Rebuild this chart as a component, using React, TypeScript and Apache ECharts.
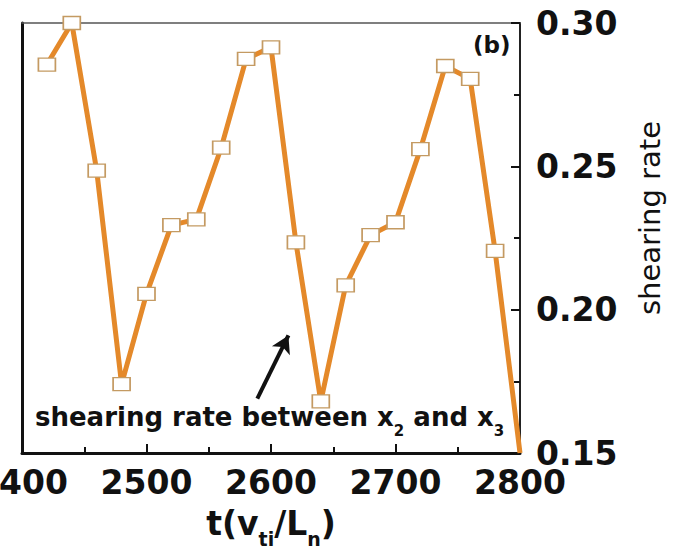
import React, { useEffect, useRef } from "react";
import * as echarts from "echarts";

// time samples (t in units of v_ti / L_n) and the shearing rate at each
const times = [
  2420, 2440, 2460, 2480, 2500, 2520, 2540, 2560, 2580, 2600,
  2620, 2640, 2660, 2680, 2700, 2720, 2740, 2760, 2780, 2800,
];
const shearRate = [
  0.2855, 0.3, 0.2485, 0.174, 0.2055, 0.2295, 0.2315, 0.2565, 0.2875, 0.2915,
  0.2235, 0.168, 0.2085, 0.226, 0.2305, 0.256, 0.285, 0.2805, 0.2205, 0.15,
];
const xTicks = [2400, 2500, 2600, 2700, 2800];
const yTicks = [0.15, 0.2, 0.25, 0.3];
// annotation arrow, tail and head in data coordinates
const arrowTail = [2589, 0.169];
const arrowHead = [2614, 0.191];

const FONT = "DejaVu Sans";
const ORANGE = "#e4892a";

export default function App() {
  const ref = useRef<HTMLDivElement>(null);

  useEffect(() => {
    if (!ref.current) return;
    const chart = echarts.init(ref.current, null, { renderer: "svg" });

    const points = times.map((t, i) =>
      i === times.length - 1
        ? { value: [t, shearRate[i]], symbol: "none" }
        : { value: [t, shearRate[i]] }
    );

    const xInterval = xTicks[1] - xTicks[0];
    const yInterval = yTicks[1] - yTicks[0];

    chart.setOption({
      animation: false,
      backgroundColor: "#ffffff",
      grid: {
        left: 22,
        right: 159,
        top: 23,
        bottom: 103,
        containLabel: false,
        outerBoundsMode: "none",
      },
      xAxis: [
        {
          type: "value",
          position: "bottom",
          min: xTicks[0],
          max: xTicks[xTicks.length - 1],
          interval: xInterval,
          axisLine: { show: true, lineStyle: { color: "#111", width: 3 } },
          axisTick: { show: true, inside: true, length: 9, lineStyle: { color: "#111", width: 2 } },
          minorTick: { show: true, splitNumber: 2, length: 6, lineStyle: { color: "#111", width: 2 } },
          splitLine: { show: false },
          axisLabel: {
            fontFamily: FONT,
            fontWeight: "bold",
            fontSize: 33,
            color: "#111",
            margin: 13,
            formatter: (v: number) => String(v),
          },
          name: "{m|t(v}{s|ti}{m|/L}{s|n}{m|)}",
          nameLocation: "middle",
          nameGap: 54,
          nameTextStyle: {
            rich: {
              m: {
                fontFamily: FONT,
                fontWeight: "bold",
                fontSize: 33,
                color: "#111",
                lineHeight: 36,
                verticalAlign: "top",
              },
              s: {
                fontFamily: FONT,
                fontWeight: "bold",
                fontSize: 19,
                color: "#111",
                lineHeight: 20,
                verticalAlign: "top",
                padding: [22, 0, 0, 0],
              },
            },
          },
        },
        {
          type: "value",
          position: "top",
          min: xTicks[0],
          max: xTicks[xTicks.length - 1],
          axisLine: { show: true, lineStyle: { color: "#555", width: 1.5 } },
          axisTick: { show: false },
          axisLabel: { show: false },
          splitLine: { show: false },
        },
      ],
      yAxis: [
        {
          type: "value",
          position: "right",
          min: yTicks[0],
          max: yTicks[yTicks.length - 1],
          interval: yInterval,
          axisLine: { show: true, lineStyle: { color: "#222", width: 2 } },
          axisTick: { show: true, inside: true, length: 9, lineStyle: { color: "#111", width: 2 } },
          minorTick: { show: true, splitNumber: 2, length: 6, lineStyle: { color: "#111", width: 2 } },
          splitLine: { show: false },
          axisLabel: {
            fontFamily: FONT,
            fontWeight: "bold",
            fontSize: 33,
            color: "#111",
            margin: 16,
            formatter: (v: number) => v.toFixed(2),
          },
          name: "shearing rate",
          nameLocation: "middle",
          nameGap: 115,
          nameRotate: 90,
          nameTextStyle: {
            fontFamily: FONT,
            fontSize: 29,
            color: "#111",
            padding: [0, 0, 0, 40],
          },
        },
        {
          type: "value",
          position: "left",
          min: yTicks[0],
          max: yTicks[yTicks.length - 1],
          axisLine: { show: true, lineStyle: { color: "#111", width: 3 } },
          axisTick: { show: false },
          axisLabel: { show: false },
          splitLine: { show: false },
        },
      ],
      series: [
        {
          type: "line",
          data: points,
          xAxisIndex: 0,
          yAxisIndex: 0,
          symbol: "rect",
          symbolSize: [17, 13],
          showAllSymbol: true,
          lineStyle: { color: ORANGE, width: 5 },
          itemStyle: { color: "#ffffff", borderColor: "#c49a62", borderWidth: 1.5 },
          emphasis: { disabled: true },
          z: 3,
          markLine: {
            silent: true,
            animation: false,
            symbol: ["none", "arrow"],
            symbolSize: [15, 17],
            label: { show: false },
            lineStyle: { color: "#111", width: 4, type: "solid" },
            data: [
              [
                { coord: arrowTail, symbol: "none" },
                { coord: arrowHead, symbol: "arrow" },
              ],
            ],
          },
        },
      ],
      graphic: [
        {
          type: "text",
          left: 473,
          top: 33,
          style: {
            text: "(b)",
            fontFamily: FONT,
            fontWeight: "bold",
            fontSize: 23,
            fill: "#111",
          },
          z: 10,
        },
        {
          type: "text",
          left: 35,
          top: 404,
          style: {
            text: "{m|shearing rate between x}{s|2}{m| and x}{s|3}",
            rich: {
              m: {
                fontFamily: FONT,
                fontWeight: "bold",
                fontSize: 26,
                fill: "#111",
                lineHeight: 28,
                verticalAlign: "top",
              },
              s: {
                fontFamily: FONT,
                fontWeight: "bold",
                fontSize: 15,
                fill: "#111",
                lineHeight: 16,
                verticalAlign: "top",
                padding: [19, 0, 0, 0],
              },
            },
          },
          z: 10,
        },
      ],
    });

    return () => chart.dispose();
  }, []);

  return (
    <div
      ref={ref}
      style={{ position: "fixed", left: 0, top: 0, width: 679, height: 556, background: "#fff" }}
    />
  );
}
